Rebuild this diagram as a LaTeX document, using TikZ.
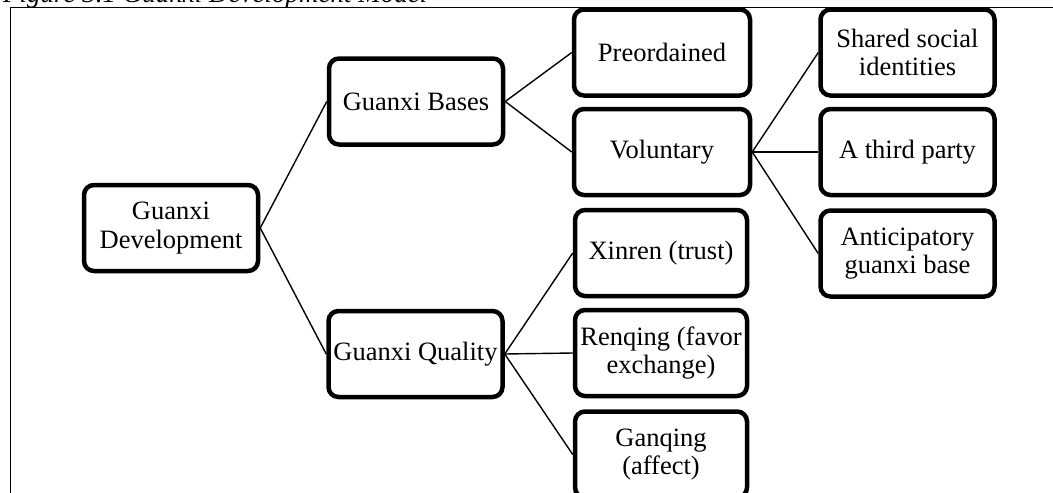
\documentclass[tikz,border=0pt]{standalone}
\usepackage{fontspec}
\setmainfont{Liberation Serif}
\begin{document}
\begin{tikzpicture}[x=1pt,y=-1pt,
  box/.style={draw=black,line width=4.5pt,rounded corners=10pt,fill=white,
    minimum width=174pt,minimum height=86pt,inner sep=1pt,align=center,
    font=\fontsize{26.5}{28.5}\selectfont},
  link/.style={draw=black,line width=1.4pt},
  frame/.style={draw=black,line width=1.4pt}]
\useasboundingbox (0,0) rectangle (1053,493);
% caption (cut off at the top)
\node[anchor=base west,inner sep=0pt,font=\fontsize{27}{29}\selectfont\itshape] (cap) at (3,2.5) {Figure 3.1 Guanxi Development Model};
% frame
\coordinate (fa) at (10.5,493);
\coordinate (fb) at (10.5,7.5);
\coordinate (fc) at (1053,7.5);
\draw[frame] (fa) -- (fb) -- (fc);
% nodes
\node[box] (root) at (171,228) {Guanxi\\Development};
\node[box] (bases) at (416,101.5) {Guanxi Bases};
\node[box] (qual) at (415.5,354) {Guanxi Quality};
\node[box,minimum width=176pt] (pre) at (662,52.5) {Preordained};
\node[box,minimum width=176pt] (vol) at (662,152) {Voluntary};
\node[box,minimum width=172pt] (xin) at (661,253) {Xinren (trust)};
\node[box,minimum width=172pt] (ren) at (661,353) {Renqing (favor\\exchange)};
\node[box,minimum width=172pt] (gan) at (661,454.5) {Ganqing\\(affect)};
\node[box] (shared) at (907.5,52.5) {Shared social\\identities};
\node[box] (third) at (907.5,152) {A third party};
\node[box] (antic) at (907.5,253.5) {Anticipatory\\guanxi base};
% connectors
\draw[link] (root.east) -- (bases.west);
\draw[link] (root.east) -- (qual.west);
\draw[link] (bases.east) -- (pre.west);
\draw[link] (bases.east) -- (vol.west);
\draw[link] (vol.east) -- (shared.west);
\draw[link] (vol.east) -- (third.west);
\draw[link] (vol.east) -- (antic.west);
\draw[link] (qual.east) -- (xin.west);
\draw[link] (qual.east) -- (ren.west);
\draw[link] (qual.east) -- (gan.west);
\end{tikzpicture}
\end{document}
